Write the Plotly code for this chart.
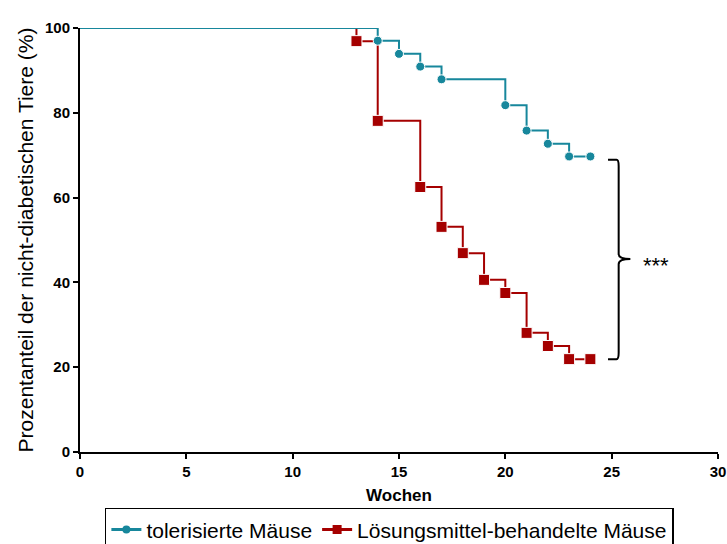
import plotly.graph_objects as go

# Data (weeks, % non-diabetic)
tol_weeks = [0, 14, 15, 16, 17, 20, 21, 22, 23, 24]
tol_pct = [100, 97.0, 93.9, 90.9, 87.9, 81.8, 75.8, 72.7, 69.7, 69.7]
veh_weeks = [0, 13, 14, 16, 17, 18, 19, 20, 21, 22, 23, 24]
veh_pct = [100, 96.9, 78.1, 62.5, 53.1, 46.9, 40.6, 37.5, 28.1, 25.0, 21.9, 21.9]
x_ticks = [0, 5, 10, 15, 20, 25, 30]
y_ticks = [0, 20, 40, 60, 80, 100]

teal = "#17879C"
red = "#A50000"

fig = go.Figure()
fig.add_trace(go.Scatter(
    x=veh_weeks, y=veh_pct, mode="lines+markers", line_shape="hv",
    line=dict(color=red, width=2),
    marker=dict(symbol="square", color=red, opacity=1, size=[0] + [11] * (len(veh_weeks) - 1)),
    name="Lösungsmittel-behandelte Mäuse", showlegend=False))
fig.add_trace(go.Scatter(
    x=tol_weeks, y=tol_pct, mode="lines+markers", line_shape="hv",
    line=dict(color=teal, width=2),
    marker=dict(symbol="circle", color=teal, opacity=1, size=[0] + [9] * (len(tol_weeks) - 1)),
    name="tolerisierte Mäuse", showlegend=False))
# legend entries
fig.add_trace(go.Scatter(x=[None], y=[None], mode="lines+markers",
                         line=dict(color=teal, width=3), marker=dict(symbol="circle", color=teal, size=8),
                         name="tolerisierte Mäuse"))
fig.add_trace(go.Scatter(x=[None], y=[None], mode="lines+markers",
                         line=dict(color=red, width=3), marker=dict(symbol="square", color=red, size=9),
                         name="Lösungsmittel-behandelte Mäuse"))

# significance bracket
x0, x1, x2 = 24.83, 25.33, 25.88
yt, ym, yb = 68.9, 45.5, 21.9
path = (f"M {x0},{yt} L {x1-0.1},{yt} Q {x1},{yt} {x1},{yt-1.5} "
        f"L {x1},{ym+1.2} Q {x1},{ym} {x2},{ym} Q {x1},{ym} {x1},{ym-1.2} "
        f"L {x1},{yb+1.5} Q {x1},{yb} {x1-0.1},{yb} L {x0},{yb}")
fig.add_shape(type="path", path=path, xref="x", yref="y",
              line=dict(color="black", width=2))
fig.add_annotation(x=27.1, y=44.0, xref="x", yref="y", text="***", showarrow=False,
                   font=dict(size=22, color="black", family="Liberation Sans"))

fig.update_layout(
    width=727, height=544,
    margin=dict(l=80, r=9, t=28, b=92, autoexpand=False),
    plot_bgcolor="white", paper_bgcolor="white",
    font=dict(family="Liberation Sans", color="black"),
    legend=dict(orientation="h", x=0.039, y=-0.132, xanchor="left", yanchor="top",
                bordercolor="black", borderwidth=1.5, font=dict(size=21),
                itemwidth=30, tracegroupgap=0),
)
fig.update_xaxes(range=[0, 30.001], tickvals=x_ticks, automargin=False,
                 showline=True, linecolor="black", linewidth=2, ticks="outside",
                 tickcolor="black", ticklen=5, tickwidth=1.5, showgrid=False, zeroline=False,
                 ticklabeloverflow="allow",
                 tickfont=dict(size=15, family="Liberation Sans", weight="bold"),
                 title=dict(text="<b>Wochen</b>", font=dict(size=17), standoff=10))
fig.update_yaxes(range=[0, 100.001], tickvals=y_ticks, automargin=False,
                 showline=True, linecolor="black", linewidth=2, ticks="outside",
                 tickcolor="black", ticklen=5, tickwidth=1.5, showgrid=False, zeroline=False,
                 tickfont=dict(size=15, family="Liberation Sans", weight="bold"),
                 title=dict(text="Prozentanteil der nicht-diabetischen Tiere (%)",
                            font=dict(size=21), standoff=6))

fig.write_html("out.html", config={"displayModeBar": False},
               post_script="document.body.style.margin='0px';")
